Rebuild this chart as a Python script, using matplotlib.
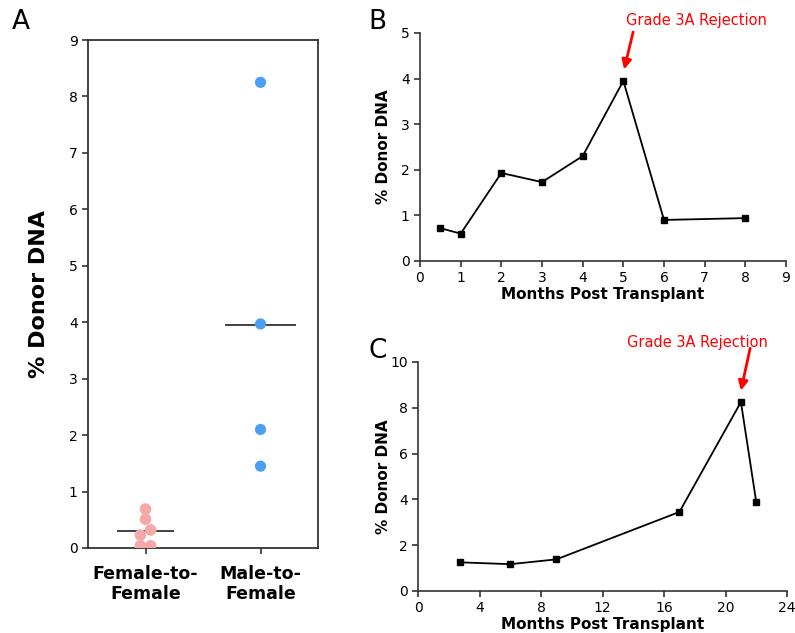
import matplotlib
matplotlib.use("Agg")
import matplotlib.pyplot as plt
import numpy as np

# panel A
groups = ["Female-to-\nFemale", "Male-to-\nFemale"]
female_vals = [0.69, 0.51, 0.32, 0.23, 0.04, 0.04]
female_jitter = [0.0, 0.0, 0.045, -0.045, -0.045, 0.045]
male_vals = [8.25, 3.97, 2.1, 1.45]
male_jitter = [0.0, 0.0, 0.0, 0.0]

# panel B
b_months = [0.5, 1, 2, 3, 4, 5, 6, 8]
b_donor = [0.72, 0.6, 1.93, 1.73, 2.3, 3.95, 0.9, 0.94]

# panel C
c_months = [2.75, 6, 9, 17, 21, 22]
c_donor = [1.25, 1.17, 1.38, 3.45, 8.25, 3.87]

plt.rcParams['font.family'] = ['Verdana', 'DejaVu Sans']
spine_col = '#333333'

fig = plt.figure(figsize=(7.95, 6.33), dpi=100)

# ---- A
ax = fig.add_axes([0.1107, 0.1343, 0.2893, 0.8025])
ax.scatter(np.array(female_jitter), female_vals, s=70, color='#f5a8a8', edgecolors='none', zorder=3)
ax.scatter(1 + np.array(male_jitter), male_vals, s=65, color='#4a9ff5', edgecolors='none', zorder=3)
ax.hlines(np.mean(female_vals), -0.25, 0.25, color='#333333', lw=1.3, zorder=2)
ax.hlines(np.mean(male_vals), 0.69, 1.31, color='#333333', lw=1.3, zorder=2)
ax.set_xlim(-0.5, 1.5)
ax.set_ylim(0, 9)
ax.set_yticks(range(10))
ax.set_xticks([0, 1])
ax.set_xticklabels(groups, fontsize=12.5, fontweight='bold')
ax.set_ylabel("% Donor DNA", fontsize=16, fontweight='bold', labelpad=14)
ax.tick_params(axis='y', labelsize=10, length=4, width=1.2, color=spine_col)
ax.tick_params(axis='x', length=4, width=1.2, color=spine_col, pad=8)
for s in ax.spines.values():
    s.set_color(spine_col)
    s.set_linewidth(1.3)
fig.text(0.015, 0.965, "A", fontsize=19, va='center')


def rejection(a, text_xy, tail, head):
    a.text(text_xy[0], text_xy[1], "Grade 3A Rejection", color='red', fontsize=10.5,
           ha='center', va='center', clip_on=False)
    a.annotate("", xy=head, xytext=tail, annotation_clip=False,
               arrowprops=dict(arrowstyle='-|>', color='red', lw=2, mutation_scale=14,
                               shrinkA=0, shrinkB=0))


# ---- B
axb = fig.add_axes([0.5283, 0.5877, 0.4604, 0.3602])
axb.plot(b_months, b_donor, color='black', lw=1.3, marker='s', ms=4)
axb.set_xlim(0, 9)
axb.set_ylim(0, 5)
axb.set_xticks(range(10))
axb.set_yticks(range(6))
axb.set_xlabel("Months Post Transplant", fontsize=11, fontweight='bold', labelpad=1)
axb.set_ylabel("% Donor DNA", fontsize=11, fontweight='bold')
axb.yaxis.set_label_coords(-0.08, 0.5)
rejection(axb, (6.8, 5.28), (5.24, 5.02), (5.02, 4.2))
fig.text(0.463, 0.965, "B", fontsize=19, va='center')

# ---- C
axc = fig.add_axes([0.5258, 0.0664, 0.4642, 0.3618])
axc.plot(c_months, c_donor, color='black', lw=1.3, marker='s', ms=4)
axc.set_xlim(0, 24)
axc.set_ylim(0, 10)
axc.set_xticks(range(0, 25, 4))
axc.set_yticks(range(0, 11, 2))
axc.set_xlabel("Months Post Transplant", fontsize=11, fontweight='bold', labelpad=1)
axc.set_ylabel("% Donor DNA", fontsize=11, fontweight='bold')
axc.yaxis.set_label_coords(-0.074, 0.5)
rejection(axc, (18.2, 10.83), (21.6, 10.6), (21.0, 8.75))
fig.text(0.463, 0.445, "C", fontsize=19, va='center')

for a in (axb, axc):
    a.spines['top'].set_visible(False)
    a.spines['right'].set_visible(False)
    for s in ('left', 'bottom'):
        a.spines[s].set_color(spine_col)
        a.spines[s].set_linewidth(1.2)
    a.tick_params(labelsize=10, length=4, width=1.2, color=spine_col)

fig.savefig("out.png", dpi=100)
